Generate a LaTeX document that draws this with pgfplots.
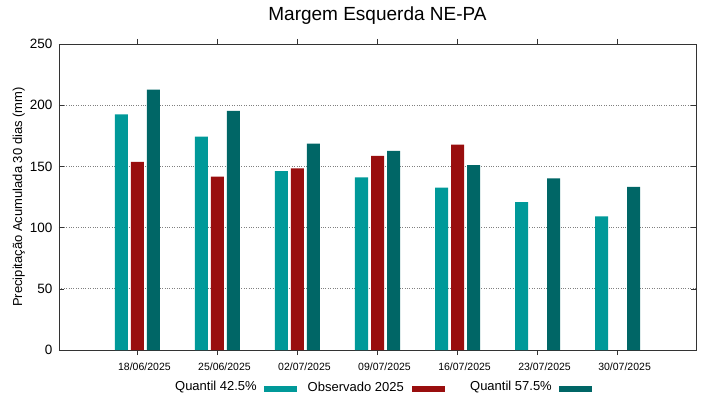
\documentclass[border=0pt]{standalone}
\usepackage{pgfplots}
\pgfplotsset{compat=1.18}
\usepackage{fontspec}
\setmainfont{Liberation Sans}
\definecolor{cA}{RGB}{0,153,153}
\definecolor{cB}{RGB}{153,14,14}
\definecolor{cC}{RGB}{0,102,102}
\begin{document}
\begin{tikzpicture}[x=1pt,y=1pt]
\useasboundingbox (0,0) rectangle (719,399);
\begin{axis}[
  at={(59pt,49pt)}, anchor=south west,
  scale only axis, width=637pt, height=306pt,
  xmin=-0.98, xmax=6.98, ymin=0, ymax=250,
  xtick={0,1,2,3,4,5,6},
  xticklabels={18/06/2025,25/06/2025,02/07/2025,09/07/2025,16/07/2025,23/07/2025,30/07/2025},
  ytick={0,50,100,150,200,250},
  tick pos=both, tick align=inside, major tick length=5pt,
  axis line style={black!80, line width=0.8pt},
  every tick/.style={black!80, line width=0.6pt},
  ymajorgrids, major grid style={dotted, line width=0.7pt, black!50},
  xticklabel style={font=\fontsize{10.5}{12}\selectfont, xshift=7pt, yshift=-4pt},
  yticklabel style={font=\fontsize{13.5}{15}\selectfont, xshift=-3pt},
  /pgf/number format/assume math mode=true,
  ylabel={Precipitação Acumulada 30 dias (mm)},
  ylabel style={font=\fontsize{13}{15}\selectfont, at={(axis description cs:-0.063,0.5)}, anchor=center},
  title={Margem Esquerda NE-PA},
  title style={font=\fontsize{19}{21}\selectfont, at={(axis description cs:0.5,1)}, anchor=center, yshift=22pt},
  ybar, bar width=0.1625,
]
\addplot[ybar, bar shift=0pt, fill=cA, draw=none] coordinates {
  (-0.2,192.6) (0.8,174.3) (1.8,146.2) (2.8,141.1) (3.8,132.6) (4.8,120.9) (5.8,109.2)};
\addplot[ybar, bar shift=0pt, fill=cB, draw=none] coordinates {
  (0,153.6) (1,141.6) (2,148.4) (3,158.5) (4,167.8)};
\addplot[ybar, bar shift=0pt, fill=cC, draw=none] coordinates {
  (0.2,212.7) (1.2,195.3) (2.2,168.6) (3.2,162.6) (4.2,151.1) (5.2,140.3) (6.2,133.2)};
\end{axis}
\begin{scope}[font=\fontsize{13}{15}\selectfont]
\node[anchor=east, inner sep=0pt] at (257,12) {Quantil 42.5\%};
\fill[cA] (264,7.5) rectangle (297,13.5);
\node[anchor=east, inner sep=0pt] at (404,12) {Observado 2025};
\fill[cB] (411.5,7.5) rectangle (444.5,13.5);
\node[anchor=east, inner sep=0pt] at (552,12) {Quantil 57.5\%};
\fill[cC] (559,7.5) rectangle (592,13.5);
\end{scope}
\end{tikzpicture}
\end{document}
